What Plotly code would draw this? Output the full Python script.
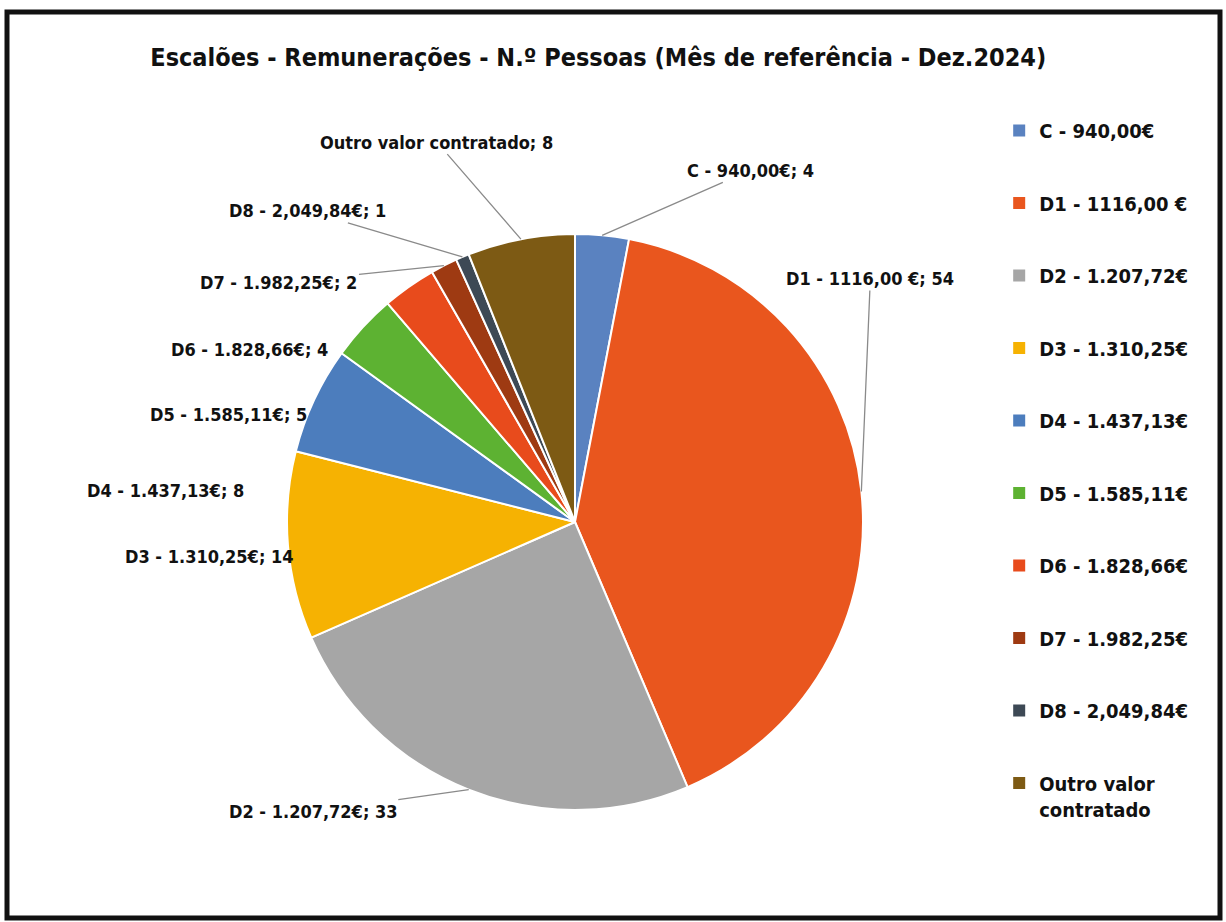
#!/usr/bin/env python3
"""Escalões - Remunerações - N.º Pessoas (pie, Dez.2024)."""
import math

import plotly.graph_objects as go

TITLE = "Escalões - Remunerações - N.º Pessoas (Mês de referência - Dez.2024)"
W, H = 1226, 922
FONT = "DejaVu Sans Condensed, Liberation Sans Narrow, Arial Narrow, sans-serif"

LABELS = [
    "C - 940,00€",
    "D1 - 1116,00 €",
    "D2 - 1.207,72€",
    "D3 - 1.310,25€",
    "D4 - 1.437,13€",
    "D5 - 1.585,11€",
    "D6 - 1.828,66€",
    "D7 - 1.982,25€",
    "D8 - 2,049,84€",
    "Outro valor contratado",
]
LEGEND_LABELS = LABELS[:-1] + ["Outro valor<br>contratado"]
PESSOAS = [4, 54, 33, 14, 8, 5, 4, 2, 1, 8]
COLORS = [
    "#5A82C0", "#E9561E", "#A6A6A6", "#F6B202", "#4C7DBD",
    "#5DB232", "#E84B1C", "#9E3A12", "#3D4955", "#7D5A14",
]

# label placement (pixel offset of each data label from its slice edge) + leader line on/off
LABEL_OFFSETS = [(148, -65), (9, -213), (-155, 22), (-78, 11), (-149, 90),
                 (-135, 88), (-160, 63), (-165, 17), (-155, -46), (-84, -97)]
LEADER = [True, True, True, False, False, False, False, True, True, True]

DOMAIN_X = [0.2341, 0.7039]
DOMAIN_Y = [0.1215, 0.7462]

fig = go.Figure()
fig.add_trace(go.Pie(
    labels=LABELS,
    values=PESSOAS,
    sort=False,
    direction="clockwise",
    rotation=0,
    marker=dict(colors=COLORS, line=dict(color="white", width=2)),
    textinfo="none",
    showlegend=False,
    domain=dict(x=DOMAIN_X, y=DOMAIN_Y),
    hovertemplate="%{label}; %{value}<extra></extra>",
))

# legend entries with wide spacing, one group per slice
for i, (lab, col) in enumerate(zip(LEGEND_LABELS, COLORS)):
    fig.add_trace(go.Scatter(
        x=[None], y=[None], mode="markers", name=f"<b>{lab}</b>",
        legendgroup=f"g{i}", showlegend=True,
        marker=dict(symbol="square", size=7, color=col),
    ))

# data labels with leader lines, anchored on each slice's outer edge
total = sum(PESSOAS)
cx = sum(DOMAIN_X) / 2
cy = sum(DOMAIN_Y) / 2
r_px = min((DOMAIN_X[1] - DOMAIN_X[0]) * W, (DOMAIN_Y[1] - DOMAIN_Y[0]) * H) / 2
cum = 0
annotations = []
for lab, v, (ox, oy), lead in zip(LABELS, PESSOAS, LABEL_OFFSETS, LEADER):
    t = 2 * math.pi * (cum + v / 2) / total
    cum += v
    annotations.append(dict(
        x=cx + r_px * math.sin(t) / W, y=cy + r_px * math.cos(t) / H,
        xref="paper", yref="paper", ax=ox, ay=oy,
        text=f"<b>{lab}; {v}</b>", showarrow=True, arrowhead=0, arrowwidth=1.3,
        arrowcolor="#8a8a8a" if lead else "rgba(0,0,0,0)", standoff=0,
        font=dict(family=FONT, size=18, color="#111111"),
    ))

fig.update_layout(
    width=W, height=H,
    paper_bgcolor="white", plot_bgcolor="white",
    margin=dict(l=0, r=0, t=0, b=0),
    font=dict(family=FONT, size=18, color="#111111"),
    title=dict(text=f"<b>{TITLE}</b>", x=0.488, xanchor="center", y=0.938, yanchor="middle",
               font=dict(family=FONT, size=25, color="#111111")),
    xaxis=dict(visible=False), yaxis=dict(visible=False),
    legend=dict(x=0.815, y=0.8795, xanchor="left", yanchor="top", valign="top",
                tracegroupgap=43.5, itemsizing="constant",
                font=dict(family=FONT, size=20, color="#111111"),
                bgcolor="rgba(0,0,0,0)"),
    annotations=annotations,
    shapes=[dict(type="rect", xref="paper", yref="paper", x0=7 / W, x1=1220 / W,
                 y0=1 - 918 / H, y1=1 - 12 / H, line=dict(color="#111111", width=5))],
)

fig.write_html("out.html", config={"displayModeBar": False},
               post_script="document.body.style.margin='0px';")
